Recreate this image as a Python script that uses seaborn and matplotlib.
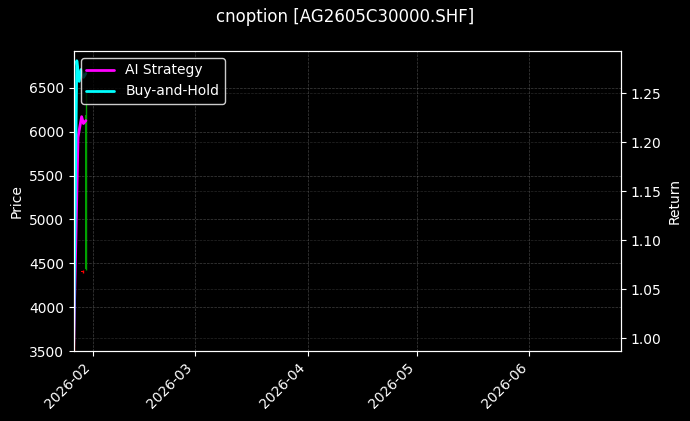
import pandas as pd
import numpy as np
import matplotlib
matplotlib.use('Agg')
import matplotlib.pyplot as plt
import matplotlib.dates as mdates
import seaborn as sns

# candles (price axis)
candle_times = ['2026-01-26 18:00', '2026-01-29 02:00', '2026-01-30 00:00']
candle_open = [4100, 4410, 4430]
candle_close = [3520, 4400, 6190]
candle_high = [4150, 4420, 6450]
candle_low = [3480, 4390, 4420]

# return curves
ai_times = ['2026-01-26 15:00', '2026-01-27 20:00', '2026-01-28 06:00',
            '2026-01-28 20:00', '2026-01-29 08:00', '2026-01-30 00:00']
ai_values = [0.99, 1.205, 1.214, 1.226, 1.219, 1.222]

bh_times = ['2026-01-26 15:00', '2026-01-27 12:00', '2026-01-28 04:00',
            '2026-01-28 16:00', '2026-01-29 08:00', '2026-01-30 00:00']
bh_values = [0.99, 1.283, 1.262, 1.274, 1.266, 1.27]

plt.style.use('dark_background')
sns.set_style('dark', {'axes.facecolor': 'black', 'figure.facecolor': 'black',
                       'axes.edgecolor': 'white', 'text.color': 'white',
                       'axes.labelcolor': 'white', 'xtick.color': 'white',
                       'ytick.color': 'white', 'xtick.bottom': True, 'ytick.left': True})
plt.rcParams['font.family'] = ['DejaVu Sans']

fig, ax1 = plt.subplots(figsize=(6.9, 4.21), dpi=100)
fig.subplots_adjust(left=0.107, right=0.9, top=0.879, bottom=0.166)

ct = pd.to_datetime(candle_times)
for t, o, c, h, l in zip(ct, candle_open, candle_close, candle_high, candle_low):
    col = '#00a000' if c >= o else 'red'
    ax1.vlines(t, l, h, color=col, linewidth=1)
    ax1.bar(t, max(abs(c - o), 8), bottom=min(o, c), width=0.6,
            color=col, edgecolor=col, linewidth=0)

ax1.set_ylim(3500, 6920)
ax1.set_ylabel('Price', color='white')
ax1.grid(True, color='gray', linestyle='--', linewidth=0.5, alpha=0.5)

ax2 = ax1.twinx()
df = pd.DataFrame({
    'time': pd.to_datetime(ai_times + bh_times),
    'value': ai_values + bh_values,
    'series': ['AI Strategy'] * len(ai_values) + ['Buy-and-Hold'] * len(bh_values),
})
sns.lineplot(data=df, x='time', y='value', hue='series',
             palette={'AI Strategy': 'magenta', 'Buy-and-Hold': 'cyan'},
             linewidth=2, ax=ax2, legend=False)
ax2.set_ylim(0.987, 1.293)
ax2.set_ylabel('Return', color='white')
ax2.set_xlabel('')
ax2.grid(True, color='gray', linestyle='--', linewidth=0.5, alpha=0.3)
ax2.tick_params(axis='y', colors='white', right=True)

ax1.set_xlim(pd.Timestamp('2026-01-26 16:30'), pd.Timestamp('2026-06-26 04:00'))
ax1.xaxis.set_major_locator(mdates.MonthLocator())
ax1.xaxis.set_major_formatter(mdates.DateFormatter('%Y-%m'))
plt.setp(ax1.get_xticklabels(), rotation=45, ha='right')

handles = ax2.get_lines()[:2]
leg = ax2.legend(handles, ['AI Strategy', 'Buy-and-Hold'], loc='upper left',
                 facecolor='black', edgecolor='white', framealpha=0.8)
for txt in leg.get_texts():
    txt.set_color('white')

for sp in ax2.spines.values():
    sp.set_color('white')

fig.suptitle('cnoption [AG2605C30000.SHF]', fontsize=12, color='white')

plt.savefig('out.png', dpi=100, facecolor='black')
